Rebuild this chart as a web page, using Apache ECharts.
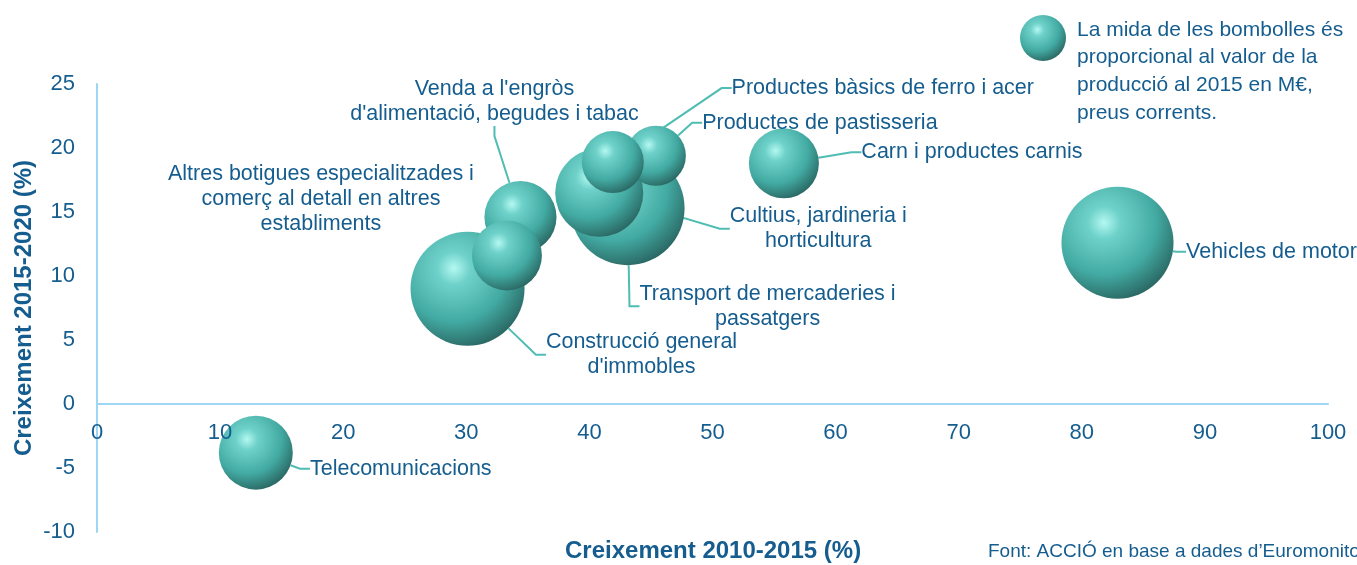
<!DOCTYPE html>
<html lang="ca">
<head>
  <meta charset="utf-8">
  <title>Creixement per sectors</title>
  <script type="text/javascript" src="https://cdn.jsdelivr.net/npm/echarts@6/dist/echarts.min.js"></script>
  <style type="text/css">
    * { margin: 0; padding: 0; }
    html, body, #chart { width: 100%; height: 100%; overflow: hidden; background: #fff; }
  </style>
</head>
<body>
  <div id="chart"></div>
  <script type="text/javascript">
    // sectors (draw order = overlap order in the original)
    var sectors = [
      'Telecomunicacions',
      'Construcció general\nd\'immobles',
      'Venda a l\'engròs\nd\'alimentació, begudes i tabac',
      'Altres botigues especialitzades i\ncomerç al detall en altres\nestabliments',
      'Transport de mercaderies i\npassatgers',
      'Cultius, jardineria i\nhorticultura',
      'Productes de pastisseria',
      'Productes bàsics de ferro i acer',
      'Carn i productes carnis',
      'Vehicles de motor'
    ];
    // creixement 2010-2015 (%)
    var growth1015 = [12.9, 30.1, 34.4, 33.3, 43.1, 40.8, 45.4, 41.9, 55.8, 82.9];
    // creixement 2015-2020 (%)
    var growth1520 = [-3.8, 9.0, 14.6, 11.6, 15.3, 16.5, 19.4, 18.9, 18.8, 12.6];
    // valor de la producció 2015 (M€, estimat per la mida)
    var production = [1370, 3250, 1300, 1225, 3250, 1940, 900, 960, 1225, 3140];

    // label offsets from bubble centre, px
    var labelOffsets = [
      [145, 16], [174, 66], [-26, -116], [-186, -56], [140, 98],
      [219, 36], [164, -33], [270, -74], [188, -11], [154, 9]
    ];
    var noLine = [3];

    var textColor = '#155d8f';
    var axisColor = '#9dd7f5';
    var font = 'Liberation Sans, Arial, sans-serif';

    var gridTop = 84, gridBottom = 33, chartH = 565;
    var yMin = -10, yMax = 25;
    // put the x axis (line and labels) on y = 0
    var xOffset = -(chartH - gridTop - gridBottom) * (0 - yMin) / (yMax - yMin);

    function ball() {
      return {
        type: 'radial', x: 0.38, y: 0.32, r: 0.72,
        colorStops: [
          { offset: 0, color: '#b4f8f2' },
          { offset: 0.2, color: '#6fd2ca' },
          { offset: 0.65, color: '#42aaa2' },
          { offset: 1, color: '#2a6662' }
        ]
      };
    }

    var points = sectors.map(function (name, i) {
      return {
        name: name,
        value: [growth1015[i], growth1520[i], production[i]],
        labelLine: { show: noLine.indexOf(i) < 0 }
      };
    });

    var option = {
      animation: false,
      textStyle: { fontFamily: font },
      grid: { left: 97, right: 29, top: gridTop, bottom: gridBottom, containLabel: false },
      title: [
        {
          text: 'Creixement 2010-2015 (%)', left: 565, top: 539, padding: 0,
          textStyle: { color: textColor, fontSize: 24, fontWeight: 'bold', fontFamily: font }
        },
        {
          text: 'Font: ACCIÓ en base a dades d\u2019Euromonitor', left: 988, top: 542, padding: 0,
          textStyle: { color: textColor, fontSize: 19, fontWeight: 'normal', fontFamily: font }
        }
      ],
      xAxis: {
        type: 'value', min: 0, max: 100, interval: 10,
        offset: xOffset, z: 5,
        axisLine: { onZero: false, lineStyle: { color: axisColor, width: 2 } },
        axisTick: { show: false },
        splitLine: { show: false },
        axisLabel: { color: textColor, fontSize: 22, margin: 18, fontFamily: font }
      },
      yAxis: {
        type: 'value', min: yMin, max: yMax, interval: 5,
        name: 'Creixement 2015-2020 (%)', nameLocation: 'middle', nameGap: 61, nameRotate: 90,
        nameMoveOverlap: false,
        nameTextStyle: { color: textColor, fontSize: 24, fontWeight: 'bold', fontFamily: font },
        axisLine: { show: true, onZero: false, lineStyle: { color: axisColor, width: 2 } },
        axisTick: { show: false },
        splitLine: { show: false },
        axisLabel: { color: textColor, fontSize: 22, margin: 22, fontFamily: font }
      },
      graphic: [
        {
          type: 'circle', left: 1020, top: 15,
          shape: { r: 23 },
          style: { fill: ball() }
        },
        {
          type: 'text', left: 1077, top: 16,
          style: {
            text: 'La mida de les bombolles és\nproporcional al valor de la\nproducció al 2015 en M€,\npreus corrents.',
            fill: textColor, font: '21px ' + font, lineHeight: 27.7
          }
        }
      ],
      series: [{
        type: 'scatter',
        data: points,
        symbolSize: function (val) { return 2 * Math.sqrt(val[2]); },
        itemStyle: { color: ball(), opacity: 1 },
        label: {
          show: true, position: 'inside',
          formatter: '{b}', color: textColor, fontSize: 21.5, lineHeight: 25,
          align: 'center', fontFamily: font
        },
        labelLine: {
          show: true, length2: 10,
          lineStyle: { color: '#4fbdb3', width: 2 }
        },
        labelLayout: function (params) {
          var off = labelOffsets[params.dataIndex];
          return { dx: off[0], dy: off[1] };
        },
        emphasis: { disabled: true }
      }]
    };

    var chart = echarts.init(document.getElementById('chart'));
    chart.setOption(option);
  </script>
</body>
</html>
